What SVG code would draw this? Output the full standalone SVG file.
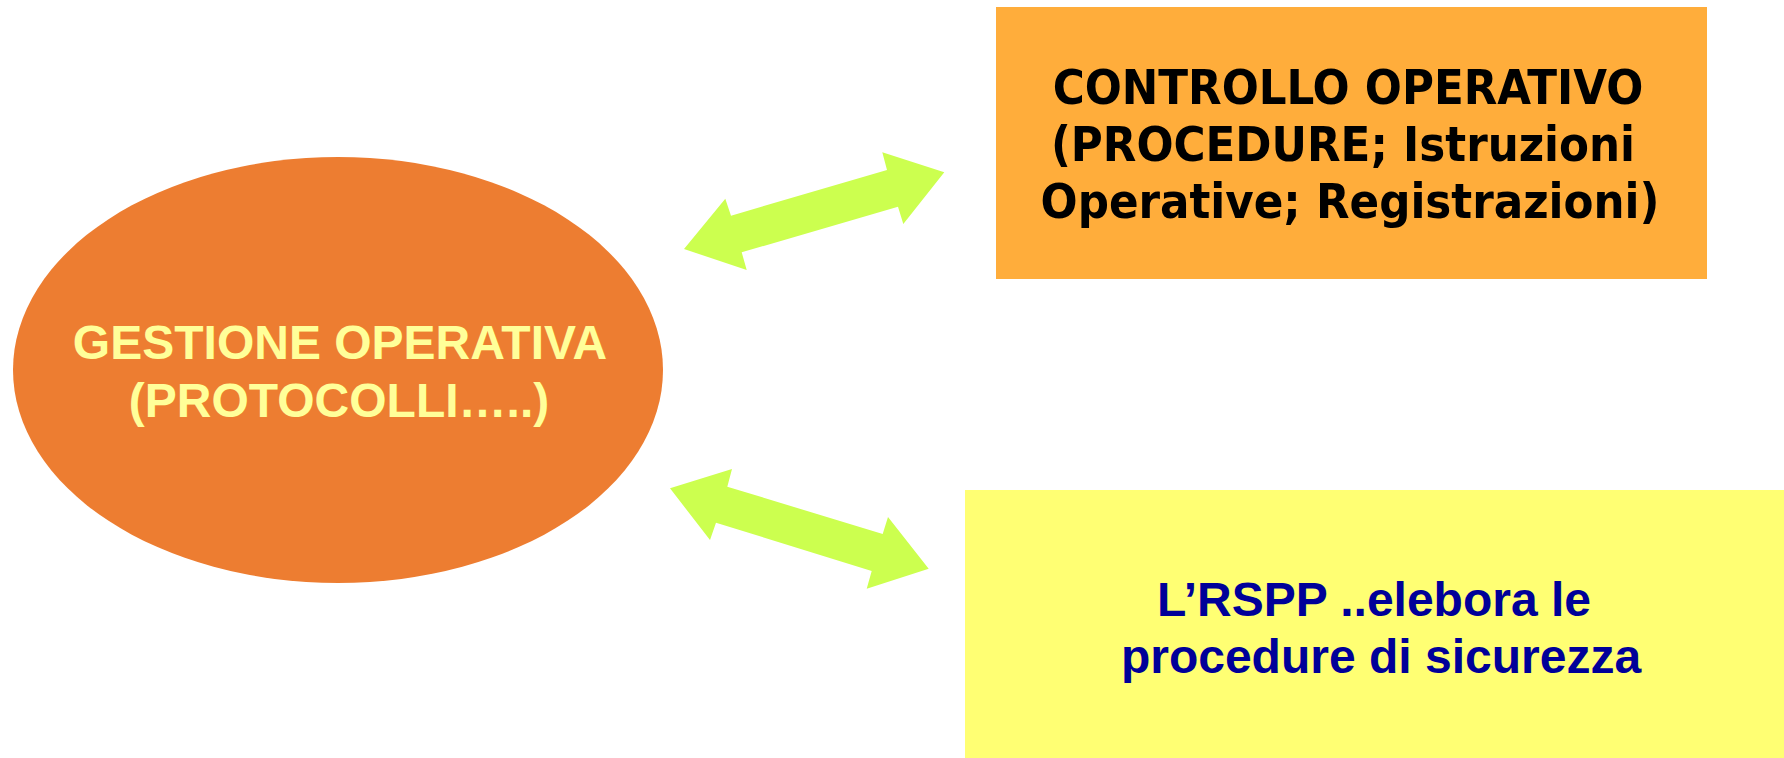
<svg xmlns="http://www.w3.org/2000/svg" width="1784" height="758" viewBox="0 0 1784 758">
<style>
.arrow{fill:#CCFF4F;stroke:none}
.t-ell{font-family:"Liberation Sans",Arial,sans-serif;font-weight:bold;font-size:48px;fill:#FFFF99;text-anchor:middle}
.t-box1{font-family:"DejaVu Sans Condensed","DejaVu Sans",Verdana,sans-serif;font-stretch:condensed;font-weight:bold;font-size:48.5px;fill:#000000;text-anchor:middle}
.t-box2{font-family:"Liberation Sans",Arial,sans-serif;font-weight:bold;font-size:48px;fill:#000099;text-anchor:middle}
</style>
<rect width="1784" height="758" fill="#FFFFFF"/>
<g id="gestione">
<ellipse cx="338" cy="370" rx="325" ry="213" fill="#ED7D31"/>
<text class="t-ell" x="340" y="359">GESTIONE OPERATIVA</text>
<text class="t-ell" x="339" y="417">(PROTOCOLLI…..)</text>
</g>
<g id="controllo">
<rect x="996" y="7" width="711" height="272" fill="#FFAD3B"/>
<text class="t-box1" x="1348" y="104">CONTROLLO OPERATIVO</text>
<text class="t-box1" x="1343" y="161">(PROCEDURE; Istruzioni</text>
<text class="t-box1" x="1350" y="218">Operative; Registrazioni)</text>
</g>
<g id="rspp">
<rect x="965" y="490" width="819" height="268" fill="#FFFF73"/>
<text class="t-box2" x="1374" y="616">L’RSPP ..elebora le</text>
<text class="t-box2" x="1381" y="673">procedure di sicurezza</text>
</g>
<g id="connectors">
<polygon class="arrow" points="684,249 725.3,198.7 731,215.7 887,170 882.3,152.3 944.3,172.3 903.3,224 898,206.7 741.7,252.3 746.7,270"/>
<polygon class="arrow" points="670,488.3 732,469 727.3,486.7 882.7,534 888,517 928.7,568.7 866.7,588.7 871.7,571 716,522.7 710,540"/>
</g>
</svg>
